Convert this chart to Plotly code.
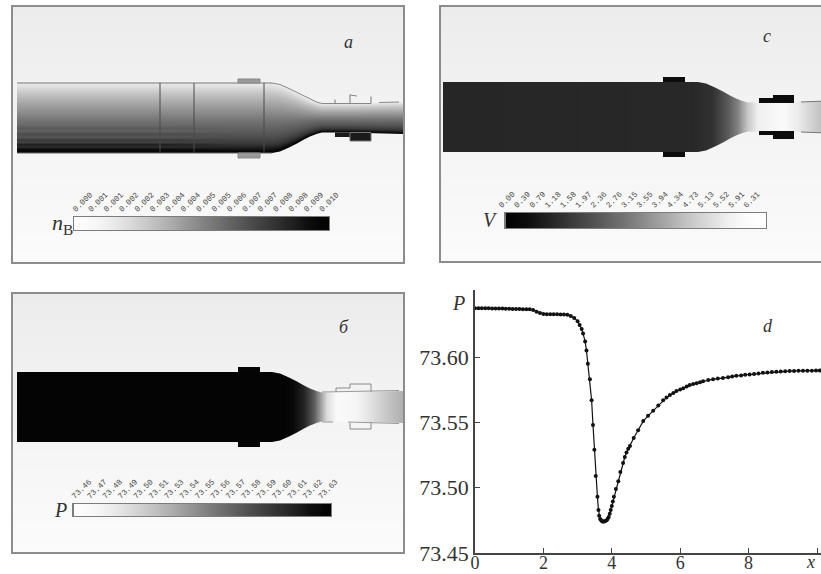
import numpy as np
import plotly.graph_objects as go

W, H = 821, 574

# ---- curve of panel d ----
curve_x = [0,0.1,0.2,0.3,0.4,0.5,0.6,0.7,0.8,0.9,1.0,1.1,1.2,1.3,1.4,1.5,1.6,1.7,1.8,1.9,2.0,2.1,2.2,2.3,2.4,2.5,2.6,2.7,
           2.8,2.9,3.0,3.06,3.12,3.16,3.22,3.26,3.3,3.36,3.41,3.45,3.49,3.53,3.58,3.61,3.63,3.66,3.69,3.72,3.75,3.78,3.81,3.85,3.88,3.91,3.94,3.97,4.0,4.03,4.06,
           4.12,4.19,4.25,4.33,4.38,4.43,4.48,4.53,4.64,4.77,4.92,5.06,5.21,5.36,5.5,5.6,5.7,5.8,5.89,6.0,6.09,6.19,6.28,6.38,6.48,6.58,6.67,6.82,6.96,7.1,7.25,7.4,7.52,7.64,7.78,7.9,8.03,8.16,8.29,8.42,8.55,8.68,8.81,8.94,9.07,9.2,9.33,9.46,9.59,9.72,9.85,9.97,10.08]
curve_y = [73.6375,73.6375,73.6375,73.6374,73.6374,73.6373,73.6373,73.6372,73.6372,73.6371,73.6370,73.6369,73.6368,73.6368,73.6367,73.6367,73.6367,73.6360,73.6348,73.6337,73.6330,73.6328,73.6328,73.6328,73.6328,73.6327,73.6327,73.6325,
           73.6315,73.6300,73.6275,73.6245,73.6215,73.6180,73.6120,73.6050,73.5950,73.5830,73.5670,73.5480,73.5290,73.5090,73.4930,73.4830,73.4785,73.4760,73.4750,73.4742,73.4742,73.4742,73.4745,73.4750,73.4762,73.4776,73.4800,73.4830,73.4860,73.4895,73.4930,
           73.4990,73.5050,73.5120,73.5190,73.5235,73.5270,73.5298,73.5320,73.5380,73.5440,73.5510,73.5550,73.5590,73.5630,73.5670,73.5690,73.5710,73.5725,73.5740,73.5752,73.5762,73.5775,73.5786,73.5794,73.5800,73.5808,73.5816,73.5824,73.5830,73.5836,73.5840,73.5846,73.5852,73.5857,73.5860,73.5864,73.5867,73.5871,73.5875,73.5880,73.5883,73.5885,73.5888,73.5890,73.5892,73.5893,73.5894,73.5895,73.5895,73.5896,73.5896,73.5897,73.5897]
d_xticks = [0, 2, 4, 6, 8, 10]
d_xlabels = ["0", "2", "4", "6", "8", ""]
d_yticks = [73.45, 73.50, 73.55, 73.60]

# ---- colour-bar labels ----
nb_labels = ["0.000","0.001","0.001","0.002","0.002","0.003","0.004","0.004","0.005","0.005","0.006","0.007","0.007","0.008","0.008","0.009","0.010"]
v_labels = ["0.00","0.39","0.79","1.18","1.58","1.97","2.36","2.76","3.15","3.55","3.94","4.34","4.73","5.13","5.52","5.91","6.31"]
p_labels = ["73.46","73.47","73.48","73.49","73.50","73.51","73.53","73.54","73.55","73.56","73.57","73.58","73.59","73.60","73.61","73.62","73.63"]
ramp_down = [252,246,236,222,206,190,172,152,132,114,97,80,64,48,32,14,4]
ramp_up = [4,14,30,46,62,78,95,112,130,150,170,190,208,224,240,250,254]

# ---- nozzle geometry (panel units) ----
noz_x = [0,255,263,272,280,287,293,300,305,330,386]
noz_r = [35,35,33.5,29.5,25.5,21.5,18.5,15.8,14.5,14.5,16]

# ---- gray field readings ----
nb_t = [-1,-.88,-.75,-.62,-.5,-.38,-.25,-.12,0,.12,.25,.38,.5,.62,.72,.8,.88,.95,1]
nb_g = [236,222,204,188,176,162,150,136,124,112,102,92,82,70,58,44,24,8,4]
streak_t = [.2,.3,.38,.46,.55,.63,.7,.76,.84,.9,.96]
streak_d = [0,-8,6,-10,8,-12,6,-20,8,-10,0]
v_s = [0,250,270,285,295,305,315,340,355,380]
v_g = [38,40,50,90,130,200,240,250,235,190]
p_s = [0,268,277,287,297,303,310,320,340,354,372,390]
p_g = [4,4,10,35,90,150,220,250,245,225,195,170]

def xdom(l, r):
    return [l / W, r / W]

def ydom(t, b):
    return [1 - b / H, 1 - t / H]

panels = {
    "a": dict(l=13, r=403, t=7, b=262, x0=4, cy=111),
    "c": dict(l=441, r=821, t=7, b=261, x0=2, cy=110),
    "b": dict(l=13, r=403, t=294, b=552, x0=4, cy=113),
}

def field(p, shade):
    w, h = p["r"] - p["l"], p["b"] - p["t"]
    xs = np.arange(w) + 0.5
    ys = np.arange(h) + 0.5
    xx, yy = np.meshgrid(xs, ys)
    r = np.interp(xx - p["x0"], noz_x, noz_r)
    offs = yy - p["cy"]
    alpha = np.clip(r - np.abs(offs) + 0.5, 0, 1) * np.clip(xx - p["x0"] + 0.5, 0, 1)
    bg = np.interp(yy, [0, h * 0.5, h], [236, 244, 251])
    inner = shade(xx, offs / r)
    return xs, ys, (alpha * inner + (1 - alpha) * bg).astype("float32")

shades = {
    "a": lambda x, t: np.clip(np.interp(t, nb_t, nb_g) + np.interp(t, streak_t, streak_d) * np.clip((230 - x) / 80, 0, 1), 0, 255),
    "c": lambda x, t: np.interp(x - 2, v_s, v_g),
    "b": lambda x, t: np.interp(x - 4, p_s, p_g),
}

fig = go.Figure()
layout = dict(width=W, height=H, margin=dict(l=0, r=0, t=0, b=0, autoexpand=False), paper_bgcolor="white",
              plot_bgcolor="rgba(0,0,0,0)", showlegend=False, font=dict(family="Liberation Serif", color="#333"))
gray = [[0, "#000000"], [1, "#ffffff"]]
FRAME = "#8c8c8c"

for i, key in enumerate(["a", "c", "b"], start=1):
    p = panels[key]
    xs, ys, z = field(p, shades[key])
    sx = "" if i == 1 else str(i)
    fig.add_trace(go.Heatmap(x=xs, y=ys, z=z, colorscale=gray, zmin=0, zmax=255, showscale=False,
                             hoverinfo="skip", xaxis="x" + sx, yaxis="y" + sx))
    layout["xaxis" + sx] = dict(domain=xdom(p["l"], p["r"]), range=[0, p["r"] - p["l"]], anchor="y" + sx,
                                showgrid=False, zeroline=False, showticklabels=False, ticks="",
                                showline=True, mirror=True, linecolor=FRAME, linewidth=1.5)
    layout["yaxis" + sx] = dict(domain=ydom(p["t"], p["b"]), range=[p["b"] - p["t"], 0], anchor="x" + sx,
                                showgrid=False, zeroline=False, showticklabels=False, ticks="",
                                showline=True, mirror=True, linecolor=FRAME, linewidth=1.5)

def poly(i, x, y, color=None, fill=None, width=1):
    sx = "" if i == 1 else str(i)
    fig.add_trace(go.Scatter(x=x, y=y, mode="lines", line=dict(color=color or "rgba(0,0,0,0)", width=width),
                             fill="toself" if fill else None, fillcolor=fill, hoverinfo="skip",
                             xaxis="x" + sx, yaxis="y" + sx))

def rect(i, x1, x2, y1, y2, fill, color=None):
    poly(i, [x1, x2, x2, x1, x1], [y1, y1, y2, y2, y1], color=color, fill=fill)

# --- panel a hardware
pa = panels["a"]
cy = pa["cy"]
poly(1, [n + 4 for n in noz_x[:2]], [cy - 35, cy - 35], color="#777", width=1)
poly(1, [n + 4 for n in noz_x[1:9]], [cy - r for r in noz_r[1:9]], color="#888", width=1)
poly(1, [309, 358], [cy - 14.5, cy - 14.5], color="#888", width=1)
poly(1, [366, 386], [cy - 15.5, cy - 16], color="#888", width=1)
poly(1, [4, 259], [cy + 35, cy + 35], color="#666", width=1)
for xv in [147, 181, 251]:
    poly(1, [xv, xv], [cy - 35, cy + 35], color="#4a4a4a", width=1)
rect(1, 225, 247, cy - 39, cy - 35, "#9a9a9a", "#888")
rect(1, 225, 247, cy + 35, cy + 40, "#9a9a9a", "#888")
rect(1, 322, 337, cy + 14.5, cy + 19, "#1a1a1a")
rect(1, 337, 358, cy + 14.5, cy + 23, "#1a1a1a", "#777")
for xv, top in [(322, 4), (337, 9), (358, 7)]:
    poly(1, [xv, xv], [cy - 14.5, cy - 14.5 - top], color="#777", width=1)
poly(1, [337, 344], [cy - 23, cy - 22], color="#888", width=1)

# --- panel c hardware
pc = panels["c"]
cy = pc["cy"]
for xv in [142, 248]:
    poly(2, [xv, xv], [cy - 35, cy + 35], color="#2a2a2a", width=1)
rect(2, 222, 244, cy - 40, cy - 35, "#0c0c0c")
rect(2, 222, 244, cy + 35, cy + 40, "#0c0c0c")
rect(2, 318, 353, cy - 19, cy - 14, "#0c0c0c")
rect(2, 332, 353, cy - 22, cy - 14, "#0c0c0c")
rect(2, 318, 353, cy + 14, cy + 18, "#0c0c0c")
rect(2, 332, 353, cy + 14, cy + 22, "#0c0c0c")
poly(2, [360, 380], [cy - 15, cy - 15.8], color="#777", width=1)
poly(2, [360, 380], [cy + 15, cy + 15.8], color="#777", width=1)

# --- panel b hardware
pb = panels["b"]
cy = pb["cy"]
rect(3, 225, 247, cy - 40, cy - 35, "#050505")
rect(3, 225, 247, cy + 35, cy + 40, "#050505")
poly(3, [323, 323, 337, 337, 358, 358], [cy - 15, cy - 19, cy - 19, cy - 23, cy - 23, cy - 15], color="#888", width=1)
poly(3, [309, 386], [cy - 15, cy - 16.5], color="#999", width=1)
poly(3, [337, 337, 358, 358], [cy + 16, cy + 22, cy + 22, cy + 15], color="#888", width=1)
poly(3, [309, 320], [cy + 15, cy + 15], color="#999", width=1)
poly(3, [335, 386], [cy + 15, cy + 16.5], color="#999", width=1)

# ---- colour bars: axes 4,5,6
# (axis index, bar left, bar right, bar top, bar bottom, ramp, labels, first tick px, px per tick)
bars = [
    (4, 73, 330, 216, 231, ramp_down, nb_labels, 73, 15.4),
    (5, 505, 767, 212, 229, ramp_up, v_labels, 499, 15.3),
    (6, 73, 332, 503, 517, ramp_down, p_labels, 72, 15.4),
]
for i, l, r, t, b, ramp, labels, tick0, step in bars:
    s = str(i)
    idx = list(range(len(labels)))
    dom_l = min(l, tick0)
    rng = [(dom_l - tick0) / step, (r - tick0) / step]
    x1, x2 = (l - tick0) / step, (r - tick0) / step
    cell = (x2 - x1) / len(ramp)
    fig.add_trace(go.Heatmap(x=[x1 + cell * (k + 0.5) for k in range(len(ramp))], y=[0, 1], z=[ramp, ramp], zsmooth="best",
                             colorscale=gray, zmin=0, zmax=255, showscale=False, hoverinfo="skip",
                             xaxis="x" + s, yaxis="y" + s))
    fig.add_trace(go.Scatter(x=[x1, x2, x2, x1, x1], y=[0, 0, 1, 1, 0], mode="lines", cliponaxis=False,
                             line=dict(color="#7c7c7c", width=2), hoverinfo="skip",
                             xaxis="x" + s, yaxis="y" + s))
    layout["xaxis" + s] = dict(domain=xdom(dom_l, r), range=rng, anchor="y" + s, side="top",
                               tickmode="array", tickvals=idx, ticktext=labels, tickangle=-45, ticks="",
                               tickfont=dict(size=8, color="#444", family="Liberation Mono"),
                               showgrid=False, zeroline=False, showline=False)
    layout["yaxis" + s] = dict(domain=ydom(t, b), range=[0, 1], anchor="x" + s, showticklabels=False, ticks="",
                               showgrid=False, zeroline=False, showline=False)

# ---- panel d: axes 7
fig.add_trace(go.Scatter(x=curve_x, y=curve_y, mode="lines+markers", line=dict(color="#111", width=1.2),
                         marker=dict(color="#111", size=4), xaxis="x7", yaxis="y7"))
axis_d = dict(showgrid=False, zeroline=False, showline=True, linecolor="#444", linewidth=1.5,
              ticks="inside", ticklen=5, tickwidth=1.3, tickcolor="#444")
layout["xaxis7"] = dict(axis_d, domain=xdom(475, 821), range=[0, 346 / 34.2], anchor="y7",
                        tickmode="array", tickvals=d_xticks, ticktext=d_xlabels, ticklabelstandoff=-7,
                        tickfont=dict(size=18, color="#333", family="Liberation Serif"))
layout["yaxis7"] = dict(axis_d, domain=ydom(290, 553), range=[73.45, 73.45 + 263 / 65.3 * 0.05], anchor="x7",
                        tickmode="array", tickvals=d_yticks, ticktext=["%.2f" % v for v in d_yticks],
                        tickfont=dict(size=22, color="#333", family="Liberation Serif"))

def note(x, y, text, size=18, yanchor="middle"):
    return dict(xref="paper", yref="paper", x=x / W, y=1 - y / H, text=text, showarrow=False,
                xanchor="center", yanchor=yanchor,
                font=dict(size=size, color="#333", family="Liberation Serif"))

layout["annotations"] = [
    note(348, 42, "<i>a</i>"), note(767, 36, "<i>c</i>"), note(344, 327, "<i>б</i>"), note(768, 326, "<i>d</i>"),
    note(63, 224, "<i>n</i><sub>B</sub>", 22), note(490, 220, "<i>V</i>", 20), note(60, 510, "<i>P</i>", 20),
    note(458, 303, "<i>P</i>", 20), note(810, 562, "<i>x</i>", 18),
]
fig.update_layout(**layout)
fig.write_html("out.html", config={"displayModeBar": False},
               post_script="document.body.style.margin='0';document.body.style.overflow='hidden';")
